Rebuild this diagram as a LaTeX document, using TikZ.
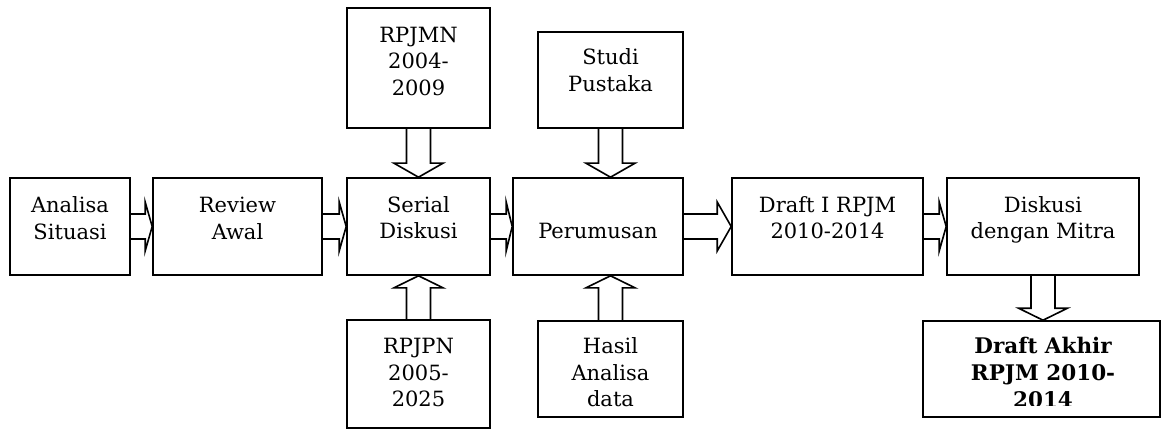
\documentclass[tikz,border=0pt]{standalone}
\usepackage{fontspec}
\setmainfont{DejaVu Serif}
\usetikzlibrary{calc}
\newcommand\stk[1]{\vtop{\halign{\hfil##\hfil\cr#1\crcr}}}
\newcommand\bx[5]{\node[bx, minimum width={(#4)-(#2)}, minimum height={(#5)-(#3)}] (#1) at ({((#2)+(#4))/2},{((#3)+(#5))/2}) {};}
% horizontal block arrow: from, to, head length
\newcommand\harr[3]{\draw[blk] ($(#1.east)+(0,-12.5)$) -- ($(#2.west)+(-#3,-12.5)$) -- ($(#2.west)+(-#3,-24.5)$) -- (#2.west) -- ($(#2.west)+(-#3,24.5)$) -- ($(#2.west)+(-#3,12.5)$) -- ($(#1.east)+(0,12.5)$);}
% vertical down arrow: from, to, head length
\newcommand\darr[3]{\draw[blk] ($(#1.south)+(-12,0)$) -- ($(#1.south |- #2.north)+(-12,-#3)$) -- ($(#1.south |- #2.north)+(-24.5,-#3)$) -- (#1.south |- #2.north) -- ($(#1.south |- #2.north)+(24.5,-#3)$) -- ($(#1.south |- #2.north)+(12,-#3)$) -- ($(#1.south)+(12,0)$);}
% vertical up arrow: from, to, head length
\newcommand\uarr[3]{\draw[blk] ($(#1.north)+(-12,0)$) -- ($(#1.north |- #2.south)+(-12,#3)$) -- ($(#1.north |- #2.south)+(-24.5,#3)$) -- (#1.north |- #2.south) -- ($(#1.north |- #2.south)+(24.5,#3)$) -- ($(#1.north |- #2.south)+(12,#3)$) -- ($(#1.north)+(12,0)$);}
\begin{document}
\begin{tikzpicture}[x=1pt,y=-1pt,
  bx/.style={draw, line width=1.6pt, inner sep=0pt},
  lbl/.style={inner sep=0pt, anchor=base, font=\fontsize{21}{26.5}\selectfont},
  blk/.style={draw, line width=1.6pt, line join=miter}]
\useasboundingbox (0,0) rectangle (1162,441);
% boxes
\bx{A}{10}{178}{130}{275}
\bx{R}{153}{178}{322}{275}
\bx{S}{347}{178}{490}{275}
\bx{M}{347}{8}{490}{128}
\bx{N}{347}{320}{490}{428}
\bx{P}{513}{178}{683}{275}
\bx{SP}{538}{32}{683}{128}
\bx{H}{538}{321}{683}{417}
\bx{D1}{732}{178}{923}{275}
\bx{DM}{947}{178}{1139}{275}
\bx{DA}{923}{321}{1160}{417}
% texts
\node[lbl] (At) at (70,212.5) {\stk{Analisa\cr Situasi}};
\node[lbl] (Rt) at (237.5,212.5) {\stk{Review\cr Awal}};
\node[lbl] (St) at (418.5,212) {\stk{Serial\cr Diskusi}};
\node[lbl] (Mt) at (418.5,42.5) {\stk{RPJMN\cr 2004-\cr 2009}};
\node[lbl] (Nt) at (418.5,353.5) {\stk{RPJPN\cr 2005-\cr 2025}};
\node[lbl] (SPt) at (610.5,65) {\stk{Studi\cr Pustaka}};
\node[lbl] (Pt) at (598,238) {Perumusan};
\begin{scope}
\clip (538,321) rectangle (683,408.5);
\node[lbl] (Ht) at (610.5,353.5) {\stk{Hasil\cr Analisa\cr data}};
\end{scope}
\node[lbl] (D1t) at (827.5,212) {\stk{Draft I RPJM\cr 2010-2014}};
\node[lbl] (DMt) at (1043,212) {\stk{Diskusi\cr dengan Mitra}};
\begin{scope}
\clip (923,321) rectangle (1160,405);
\node[lbl, font=\fontsize{21.5}{27}\selectfont\bfseries] (DAt) at (1043,353) {\stk{Draft Akhir\cr RPJM 2010-\cr 2014}};
\end{scope}
% arrows
\harr{A}{R}{7}
\harr{R}{S}{7}
\harr{S}{P}{6}
\harr{P}{D1}{14}
\harr{D1}{DM}{7}
\darr{M}{S}{14}
\uarr{N}{S}{12}
\darr{SP}{P}{14}
\uarr{H}{P}{12}
\darr{DM}{DA}{12}
\end{tikzpicture}
\end{document}
